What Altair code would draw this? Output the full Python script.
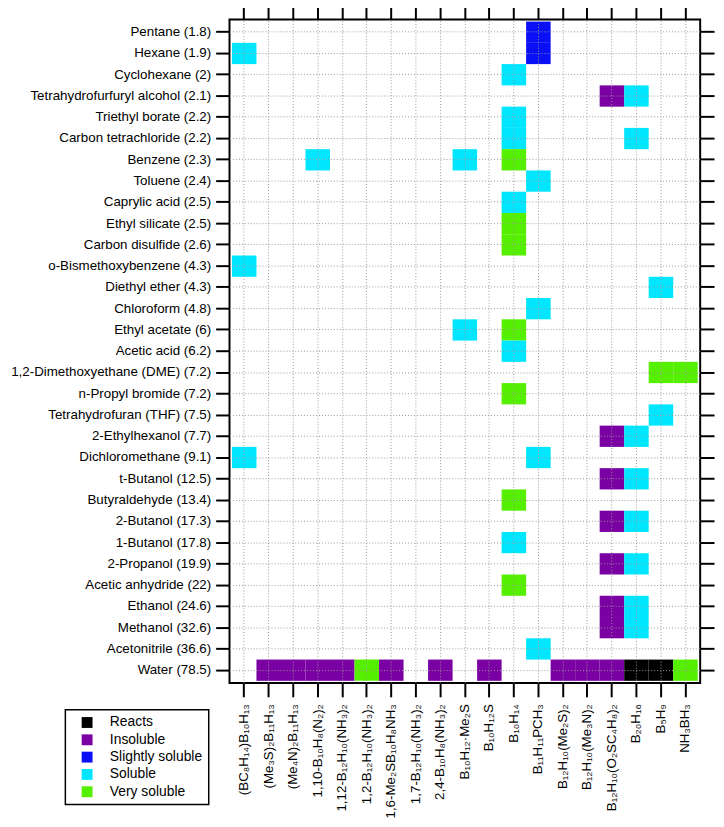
import altair as alt
import pandas as pd

solvents = [
    "Pentane (1.8)", "Hexane (1.9)", "Cyclohexane (2)", "Tetrahydrofurfuryl alcohol (2.1)",
    "Triethyl borate (2.2)", "Carbon tetrachloride (2.2)", "Benzene (2.3)", "Toluene (2.4)",
    "Caprylic acid (2.5)", "Ethyl silicate (2.5)", "Carbon disulfide (2.6)",
    "o-Bismethoxybenzene (4.3)", "Diethyl ether (4.3)", "Chloroform (4.8)", "Ethyl acetate (6)",
    "Acetic acid (6.2)", "1,2-Dimethoxyethane (DME) (7.2)", "n-Propyl bromide (7.2)",
    "Tetrahydrofuran (THF) (7.5)", "2-Ethylhexanol (7.7)", "Dichloromethane (9.1)",
    "t-Butanol (12.5)", "Butyraldehyde (13.4)", "2-Butanol (17.3)", "1-Butanol (17.8)",
    "2-Propanol (19.9)", "Acetic anhydride (22)", "Ethanol (24.6)", "Methanol (32.6)",
    "Acetonitrile (36.6)", "Water (78.5)",
]

compounds = [
    "(BC₈H₁₄)B₁₀H₁₃", "(Me₃S)₂B₁₁H₁₃", "(Me₄N)₂B₁₁H₁₃", "1,10-B₁₀H₈(N₂)₂",
    "1,12-B₁₂H₁₀(NH₃)₂", "1,2-B₁₂H₁₀(NH₃)₂", "1,6-Me₂SB₁₀H₈NH₃", "1,7-B₁₂H₁₀(NH₃)₂",
    "2,4-B₁₀H₈(NH₃)₂", "B₁₀H₁₂·Me₂S", "B₁₀H₁₂S", "B₁₀H₁₄", "B₁₁H₁₁PCH₃",
    "B₁₂H₁₀(Me₂S)₂", "B₁₂H₁₀(Me₃N)₂", "B₁₂H₁₀(O₂SC₄H₈)₂", "B₂₀H₁₆", "B₅H₉", "NH₃BH₃",
]

statuses = ["Reacts", "Insoluble", "Slightly soluble", "Soluble", "Very soluble"]
status_colors = ["#000000", "#7A00A3", "#0A10F5", "#00E6FF", "#55F000"]

# cells: solvent index, compound index, status
cell_row = [0, 1, 1, 2, 3, 3, 4, 5, 5, 6, 6, 6, 7, 8, 9, 10, 11, 12, 13, 14, 14, 15,
            16, 16, 17, 18, 19, 19, 20, 20, 21, 21, 22, 23, 23, 24, 25, 25, 26, 27, 27,
            28, 28, 29,
            30, 30, 30, 30, 30, 30, 30, 30, 30, 30, 30, 30, 30, 30]
cell_col = [12, 0, 12, 11, 15, 16, 11, 11, 16, 3, 9, 11, 12, 11, 11, 11, 0, 17, 12, 9, 11, 11,
            17, 18, 11, 17, 15, 16, 0, 12, 15, 16, 11, 15, 16, 11, 15, 16, 11, 15, 16,
            15, 16, 12,
            1, 2, 3, 4, 5, 6, 8, 10, 13, 14, 15, 16, 17, 18]
cell_status = [
    "Slightly soluble", "Soluble", "Slightly soluble", "Soluble", "Insoluble", "Soluble",
    "Soluble", "Soluble", "Soluble", "Soluble", "Soluble", "Very soluble", "Soluble",
    "Soluble", "Very soluble", "Very soluble", "Soluble", "Soluble", "Soluble", "Soluble",
    "Very soluble", "Soluble", "Very soluble", "Very soluble", "Very soluble", "Soluble",
    "Insoluble", "Soluble", "Soluble", "Soluble", "Insoluble", "Soluble", "Very soluble",
    "Insoluble", "Soluble", "Soluble", "Insoluble", "Soluble", "Very soluble",
    "Insoluble", "Soluble", "Insoluble", "Soluble", "Soluble",
    "Insoluble", "Insoluble", "Insoluble", "Insoluble", "Very soluble", "Insoluble",
    "Insoluble", "Insoluble", "Insoluble", "Insoluble", "Insoluble", "Reacts", "Reacts",
    "Very soluble",
]

df = pd.DataFrame({
    "solvent": [solvents[r] for r in cell_row],
    "compound": [compounds[c] for c in cell_col],
    "status": cell_status,
})

FONT = "Liberation Sans"
xscale = alt.Scale(domain=compounds, paddingInner=0, paddingOuter=0.1)
yscale = alt.Scale(domain=solvents, paddingInner=0, paddingOuter=0.1)

common_axis = dict(
    tickSize=14, tickWidth=2, tickColor="black", domain=False,
    labelFont=FONT, labelColor="black", bandPosition=0.5,
)

base = alt.Chart(df).mark_rect().encode(
    x=alt.X("compound:N", scale=xscale, title=None,
            axis=alt.Axis(orient="bottom", labelAngle=-90, labelFontSize=13.5, labelPadding=7,
                          grid=True, gridColor="#9a9a9a", gridDash=[1, 2], gridWidth=1,
                          zindex=1, labelLimit=200, **common_axis)),
    y=alt.Y("solvent:N", scale=yscale, title=None,
            axis=alt.Axis(orient="left", labelFontSize=13.5, labelPadding=5,
                          grid=True, gridColor="#9a9a9a", gridDash=[1, 2], gridWidth=1,
                          zindex=1, labelLimit=260, **common_axis)),
    color=alt.Color("status:N", title=None,
                    scale=alt.Scale(domain=statuses, range=status_colors),
                    legend=alt.Legend(orient="none", legendX=-166, legendY=698,
                                      strokeColor="black", padding=6,
                                      symbolType="square", symbolSize=121, symbolStrokeWidth=0,
                                      symbolOffset=9, labelOffset=16, labelFont=FONT,
                                      labelFontSize=14, labelColor="black", rowPadding=3.5,
                                      fillColor="white")),
)

mirror = alt.Chart(df).mark_rect(opacity=0).encode(
    x=alt.X("compound:N", scale=xscale, title=None,
            axis=alt.Axis(orient="top", labels=False, grid=False, **common_axis)),
    y=alt.Y("solvent:N", scale=yscale, title=None,
            axis=alt.Axis(orient="right", labels=False, grid=False, **common_axis)),
)

chart = alt.layer(base, mirror).resolve_axis(
    x="independent", y="independent"
).properties(
    width=476, height=671,
    autosize=alt.AutoSizeParams(type="none"),
    padding={"left": 224, "top": 7, "right": 16, "bottom": 133},
).configure_view(
    stroke="black", strokeWidth=2
).configure_legend(
    strokeWidth=1.5
)

chart.save("out.html", embed_options={"renderer": "svg", "actions": False})
